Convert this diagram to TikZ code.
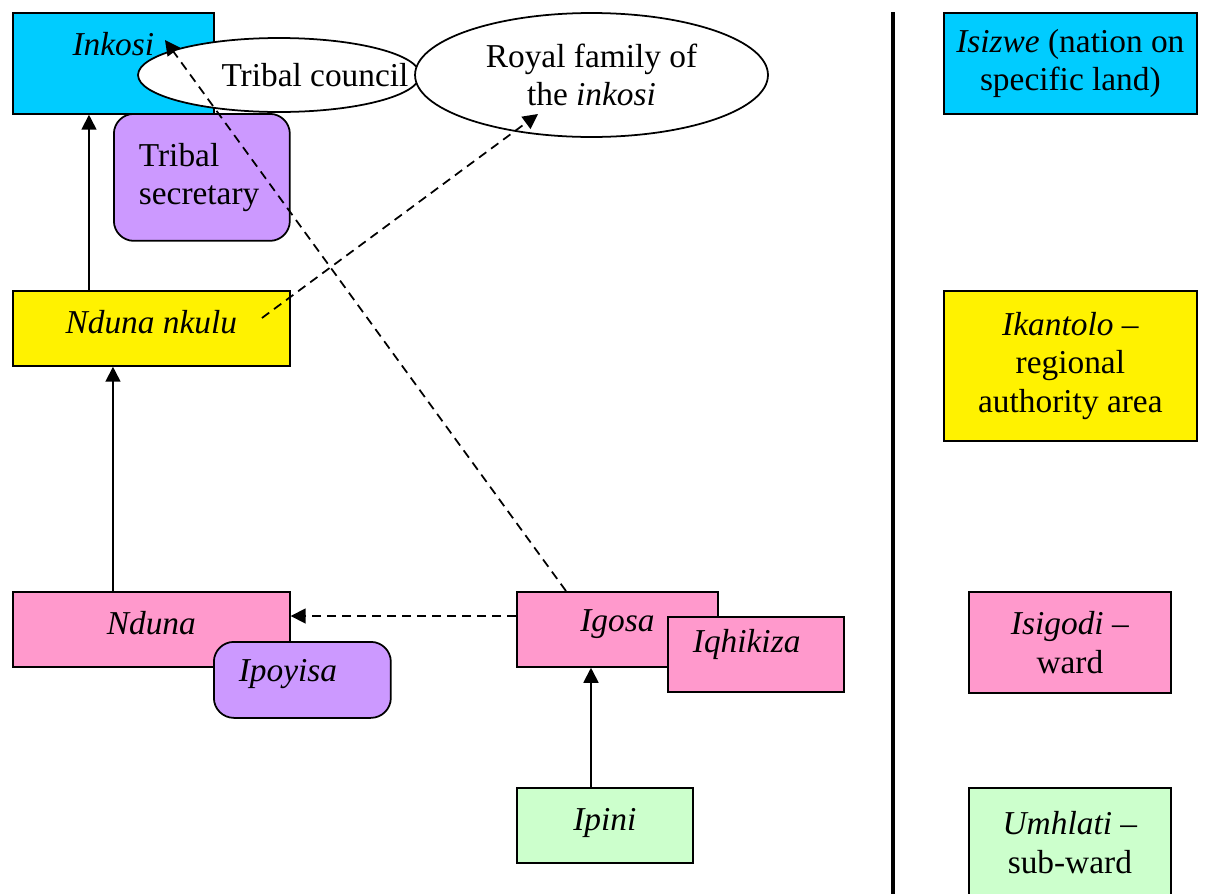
\documentclass[tikz,border=0pt]{standalone}
\usepackage{fontspec}
\setmainfont{Liberation Serif}
\usetikzlibrary{arrows.meta,shapes.geometric}

\definecolor{skyblue}{RGB}{0,204,255}
\definecolor{lilac}{RGB}{204,153,255}
\definecolor{rosepink}{RGB}{255,153,204}
\definecolor{mintgreen}{RGB}{204,255,204}

\begin{document}
\begin{tikzpicture}[x=0.02cm,y=-0.02cm,>={Triangle[length=0.3cm,width=0.3cm]},
        font=\fontsize{19}{22}\selectfont,
        box/.style={draw,rectangle,anchor=north west,inner sep=0pt,line width=1pt},
        rank/.style={box,text height=0.86cm,text depth=0.64cm},
        leftbox/.style={rank,align=left,inner xsep=0.5cm},
        keybox/.style={box,align=center},
        oval/.style={draw,ellipse,fill=white,inner sep=0pt,line width=1pt},
        link/.style={line width=1pt},
        dashlink/.style={line width=1pt,dash pattern=on 0.18cm off 0.12cm}]
                \useasboundingbox (0,0) rectangle (1219,893);

                % left side: the offices
                \node[rank,fill=skyblue,minimum width=4.02cm,text depth=1.16cm] (inkosi) at (12,12) {\textit{Inkosi}};
                \node[box,fill=lilac,rounded corners=0.4cm,minimum height=2.54cm,text width=2.52cm,inner xsep=0.5cm,align=left] (secretary) at (113,113) {Tribal\\secretary};
                \node[oval,minimum width=5.64cm,minimum height=1.48cm,label={[xshift=0.72cm]center:Tribal council}] (council) at (279,75) {};
                \node[oval,minimum width=7.06cm,minimum height=2.48cm,align=center] (royal) at (591.5,75) {Royal family of\\the \textit{inkosi}};
                \node[rank,fill=yellow,minimum width=5.54cm] (nkulu) at (12,290) {\textit{Nduna nkulu}};
                \node[rank,fill=rosepink,minimum width=5.54cm] (nduna) at (12,591) {\textit{Nduna}};
                \node[leftbox,fill=lilac,rounded corners=0.4cm,text width=2.54cm,text height=0.8cm,text depth=0.72cm] (ipoyisa) at (213,641) {\textit{Ipoyisa}};
                \node[rank,fill=rosepink,minimum width=4.02cm,text height=0.8cm,text depth=0.7cm] (igosa) at (516,591) {\textit{Igosa}};
                \node[leftbox,fill=rosepink,text width=2.52cm,text height=0.72cm,text depth=0.78cm] (iqhikiza) at (667,616) {\textit{Iqhikiza}};
                \node[rank,fill=mintgreen,minimum width=3.52cm] (ipini) at (516,787) {\textit{Ipini}};

                % right side: the areas
                \draw[line width=2.8pt] (893,12) -- (893,900);
                \node[keybox,fill=skyblue,minimum width=5.06cm,minimum height=2.02cm] (isizwe) at (943,12) {\textit{Isizwe} (nation on\\specific land)};
                \node[keybox,fill=yellow,minimum width=5.06cm,minimum height=3cm] (ikantolo) at (943,290) {\textit{Ikantolo} --\\regional\\authority area};
                \node[keybox,fill=rosepink,minimum width=4.04cm,minimum height=2.02cm] (isigodi) at (968,591) {\textit{Isigodi} --\\ward};
                \node[keybox,fill=mintgreen,minimum width=4.04cm,minimum height=2.2cm] (umhlati) at (968,787) {\textit{Umhlati} --\\sub-ward};

                \path[->,link]
                    ([xshift=1.54cm]nkulu.north west) edge ([xshift=1.54cm]inkosi.south west)
                    ([xshift=2.02cm]nduna.north west) edge ([xshift=2.02cm]nkulu.south west)
                    ([xshift=1.5cm]ipini.north west) edge ([xshift=1.5cm]igosa.south west)
                ;
                \path[->,dashlink]
                    ([yshift=-0.5cm]igosa.north west) edge ([yshift=-0.5cm]nduna.north east)
                    ([xshift=1cm]igosa.north west) edge ([xshift=3.06cm,yshift=-0.56cm]inkosi.north west)
                    ([xshift=5cm,yshift=-0.56cm]nkulu.north west) edge ([xshift=-1.07cm,yshift=-0.78cm]royal.center)
                ;
\end{tikzpicture}
\end{document}
